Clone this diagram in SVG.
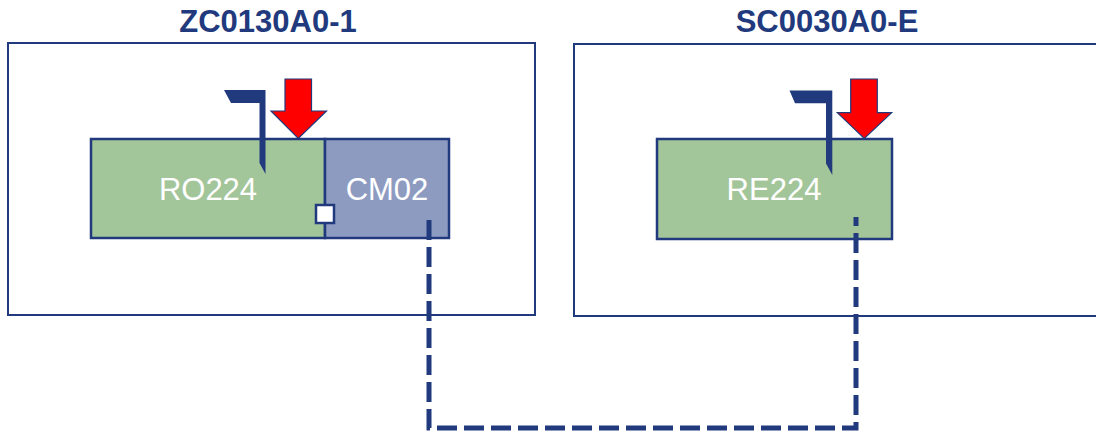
<svg xmlns="http://www.w3.org/2000/svg" width="1096" height="432" viewBox="0 0 1096 432">
  <style>
    .frame { fill: #ffffff; stroke: #213A7D; stroke-width: 2; }
    .title { font-family: "Liberation Sans", Arial, sans-serif; font-weight: bold; font-size: 31px; fill: #213A7D; text-anchor: middle; }
    .green { fill: #A3C59A; stroke: #213A7D; stroke-width: 2.5; }
    .blue { fill: #8E9BC1; stroke: #213A7D; stroke-width: 2.5; }
    .label { font-family: "Liberation Sans", Arial, sans-serif; font-size: 31px; fill: #ffffff; text-anchor: middle; }
    .flag { fill: #213A7D; }
    .arrow { fill: #FF0000; stroke: #213A7D; stroke-width: 1.2; stroke-linejoin: miter; }
    .link { fill: none; stroke: #213A7D; stroke-width: 5; stroke-dasharray: 20 7; }
    .port { fill: #ffffff; stroke: #213A7D; stroke-width: 2.5; }
  </style>

  <!-- Cabinet ZC0130A0-1 -->
  <g id="cabinet-zc0130a0-1">
    <rect class="frame" x="8" y="43" width="527" height="272"/>
    <text class="title" x="268" y="32">ZC0130A0-1</text>
  </g>

  <!-- Cabinet SC0030A0-E -->
  <g id="cabinet-sc0030a0-e">
    <rect class="frame" x="574" y="44" width="530" height="272"/>
    <text class="title" x="827" y="32">SC0030A0-E</text>
  </g>

  <!-- RO224 -->
  <g id="node-ro224">
    <rect class="green" x="91" y="139" width="234" height="99"/>
    <text class="label" x="208" y="200">RO224</text>
    <polygon class="flag" points="224,90 265.5,90 265.5,174 259.5,163 259.5,103 231,103"/>
    <polygon class="arrow" points="285,79 311.5,79 311.5,111 326.5,111 298.3,138.5 271,111 285,111"/>
  </g>

  <!-- CM02 -->
  <g id="node-cm02">
    <rect class="blue" x="325" y="139" width="124" height="99"/>
    <text class="label" x="387" y="200">CM02</text>
    <rect class="port" x="316" y="205" width="18" height="18"/>
  </g>

  <!-- RE224 -->
  <g id="node-re224">
    <rect class="green" x="657" y="139" width="235" height="100"/>
    <text class="label" x="774" y="200">RE224</text>
    <polygon class="flag" points="789.5,90.5 832.3,90.5 832.3,175 826,163.5 826,103.3 795,103.3"/>
    <polygon class="arrow" points="850.7,79 877.3,79 877.3,112.7 891.7,112.7 864.3,138.5 837.3,112.7 850.7,112.7"/>
  </g>

  <!-- Connectors (drawn over the nodes) -->
  <g id="connectors">
    <path class="link" d="M429,220 V428 H856 V217"/>
  </g>
</svg>
